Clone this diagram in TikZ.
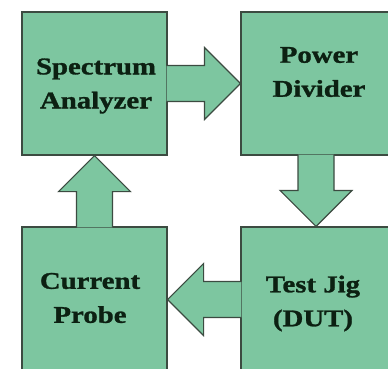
\documentclass[tikz,border=0pt]{standalone}
\usepackage{fontspec}
\newfontfamily\boxfont[FakeStretch=1.2,FakeBold=1.2]{Liberation Serif}
\usetikzlibrary{calc}
\definecolor{boxgreen}{RGB}{125,198,160}
\definecolor{edgegray}{RGB}{60,75,65}
\definecolor{textgreen}{RGB}{12,32,18}

\tikzset{
  blk/.style={draw=edgegray, fill=boxgreen, line width=1.2pt, inner sep=0pt},
  txt/.style={align=center, text=textgreen, font=\boxfont\bfseries\fontsize{24}{34}\selectfont},
  fat/.style={draw=edgegray, fill=boxgreen, line width=1.2pt, line join=miter}
}

% fat block arrow from #1 to #2
\newcommand{\fatarrow}[2]{%
  \coordinate (hb) at ($(#2)!36pt!(#1)$);
  \coordinate (tl) at ($(#1)!-1pt!(#2)$);
  \filldraw[fat] ($(tl)!18pt!90:(#2)$) -- ($(hb)!18pt!90:(#2)$)
    -- ($(hb)!36pt!90:(#2)$) -- (#2) -- ($(hb)!36pt!-90:(#2)$)
    -- ($(hb)!18pt!-90:(#2)$) -- ($(tl)!18pt!-90:(#2)$);
}

\begin{document}
\begin{tikzpicture}[x=1pt,y=1pt]
  \useasboundingbox (0,0) rectangle (388,368);
  \clip (0,0) rectangle (388,368);

  % Boxes
  \node[blk, minimum width=145pt, minimum height=143pt] (sa) at (94.5,284.5) {};
  \node[blk, minimum width=150pt, minimum height=143pt] (pd) at (316,284.5) {};
  \node[blk, minimum width=145pt, minimum height=145pt] (cp) at (94.5,68.5) {};
  \node[blk, minimum width=150pt, minimum height=145pt] (tj) at (316,68.5) {};

  % Arrows
  \fatarrow{sa.east}{pd.west}
  \fatarrow{pd.south}{tj.north}
  \fatarrow{tj.west}{cp.east}
  \fatarrow{cp.north}{sa.south}

  % Labels
  \node[txt] (satext) at ($(sa)+(1.5,-2.5)$) {Spectrum\\Analyzer};
  \node[txt] (pdtext) at ($(pd)+(3,11.5)$) {Power\\Divider};
  \node[txt] (cptext) at ($(cp)+(-4.5,1.5)$) {Current\\Probe};
  \node[txt] (tjtext) at ($(tj)+(-3,-4)$) {Test Jig\\(DUT)};
\end{tikzpicture}
\end{document}
